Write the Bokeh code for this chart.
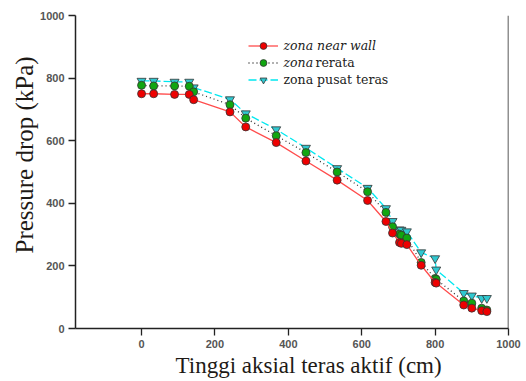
import math
from bokeh.plotting import figure
from bokeh.models import Range1d, Label, Legend, LegendItem, Span, Title
from bokeh.embed import file_html
from bokeh.resources import INLINE

# ---- data ----
height_cm = [0, 33, 90, 130, 142, 241, 284, 367, 448, 533, 616, 666, 684,
             703, 708, 723, 762, 800, 803, 878, 900, 927, 941]
near_wall = [750, 750, 748, 748, 731, 692, 644, 594, 535, 474, 409, 342, 305,
             275, 272, 268, 202, 147, 145, 75, 65, 57, 54]
rerata = [777, 775, 775, 774, 756, 715, 672, 616, 562, 500, 437, 371, 325,
          301, 298, 289, 211, 160, 157, 88, 81, 65, 59]
pusat = [791, 791, 788, 788, 770, 732, 687, 636, 577, 512, 449, 384, 343,
         316, 315, 310, 243, 224, 188, 113, 105, 97, 97]
x_ticks = [0, 200, 400, 600, 800, 1000]
y_ticks = [0, 200, 400, 600, 800, 1000]

W, H = 526, 381
FL, FR, FT, FB = 75, 508, 15, 328  # frame edges in canvas px
SERIF = "'Liberation Serif'"


def fx(cx):
    return cx - FL


def fy(cy):
    return FB - cy


p = figure(width=W, height=H, output_backend="svg", toolbar_location=None,
           x_range=Range1d(-180, 1000), y_range=Range1d(0, 1000),
           min_border_left=FL, min_border_right=W - FR,
           min_border_top=FT, min_border_bottom=H - FB)
p.outline_line_color = None
p.background_fill_color = "white"
p.border_fill_color = "white"
p.grid.visible = False

for ax, ticks in ((p.xaxis, x_ticks), (p.yaxis, y_ticks)):
    ax.ticker = ticks
    ax.minor_tick_line_color = None
    ax.major_tick_in = 0
    ax.major_tick_out = 7
    ax.axis_line_color = "#222222"
    ax.axis_line_width = 1.5
    ax.major_tick_line_color = "#222222"
    ax.major_tick_line_width = 1.3
    ax.major_label_text_font = "Liberation Sans"
    ax.major_label_text_font_style = "bold"
    ax.major_label_text_font_size = "11px"
    ax.major_label_text_color = "#555555"
    ax.major_label_standoff = 4

p.add_layout(Span(location=1000, dimension="height", line_color="#222222", line_width=1.5))

# series (cyan first so red sits on top)
r3 = p.line(height_cm, pusat, line_color="#00e8f0", line_width=1.3, line_dash="8 3")
s3 = p.scatter(height_cm, pusat, marker="inverted_triangle", size=9,
               fill_color="#30c8d0", line_color="#333333", line_width=0.8)
r2 = p.line(height_cm, rerata, line_color="#333333", line_width=1.3, line_dash="1 3")
s2 = p.scatter(height_cm, rerata, marker="circle", size=8,
               fill_color="#11a611", line_color="#333333", line_width=0.8)
r1 = p.line(height_cm, near_wall, line_color="#ff4d4d", line_width=1.3)
s1 = p.scatter(height_cm, near_wall, marker="circle", size=8,
               fill_color="#ee0000", line_color="#333333", line_width=0.8)

legend = Legend(items=[LegendItem(label=" ", renderers=[r1, s1]),
                       LegendItem(label=" ", renderers=[r2, s2]),
                       LegendItem(label=" ", renderers=[r3, s3])],
                location=(fx(248), fy(87.5)),
                glyph_width=30, glyph_height=17, label_height=17, label_width=1,
                label_standoff=0, spacing=0, padding=0, margin=0,
                border_line_color=None, background_fill_alpha=0,
                label_text_font_size="1px")
p.add_layout(legend)

TXT = dict(x_units="screen", y_units="screen", text_font="DejaVu Serif",
           text_font_size="12.5px", text_color="#222222", text_baseline="middle")
p.add_layout(Label(x=fx(283), y=fy(45), text="zona near wall",
                   text_font_style="italic", **TXT))
p.add_layout(Label(x=fx(283), y=fy(62), text="zona",
                   text_font_style="italic", **TXT))
p.add_layout(Label(x=fx(315), y=fy(62), text="rerata", **TXT))
p.add_layout(Label(x=fx(283), y=fy(79), text="zona pusat teras", **TXT))

p.add_layout(Title(text="Tinggi aksial teras aktif (cm)", align="left", offset=100,
                   text_font=SERIF, text_font_size="23px", text_font_style="normal",
                   text_color="#1e1a16", standoff=0), "below")
p.add_layout(Title(text="Pressure drop (kPa)", align="left", offset=75,
                   text_font=SERIF, text_font_size="25px", text_font_style="normal",
                   text_color="#1e1a16", standoff=0), "left")

open("out.html", "w").write(file_html(p, INLINE))
